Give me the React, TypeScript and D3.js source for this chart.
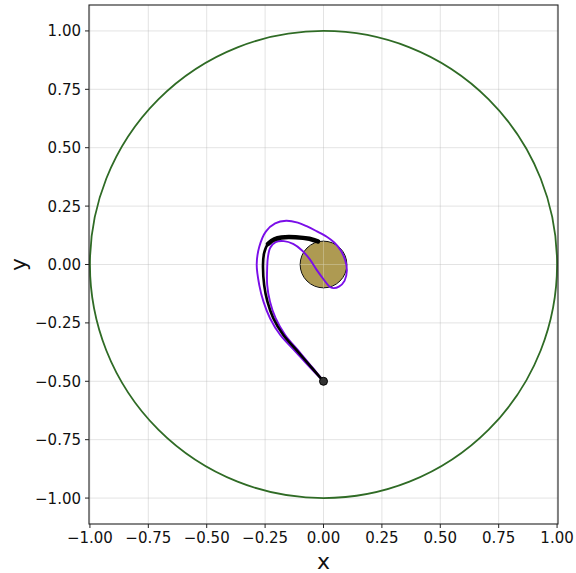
import * as d3 from 'd3';

const W = 576;
const H = 573;

// axis ticks
const xTicks = [-1, -0.75, -0.5, -0.25, 0, 0.25, 0.5, 0.75, 1];
const yTicks = [-1, -0.75, -0.5, -0.25, 0, 0.25, 0.5, 0.75, 1];

// bodies
const orbitRadius = 1.0;
const planetRadius = 0.1;
const startPoint: [number, number] = [0, -0.5];

// purple trajectory (out, around the planet, back)
const purplePath: [number, number][] = [
  [0, -0.5], [-0.054, -0.445], [-0.12, -0.373], [-0.185, -0.302], [-0.229, -0.23],
  [-0.257, -0.159], [-0.275, -0.088], [-0.286, 0.0], [-0.275, 0.076], [-0.247, 0.141],
  [-0.207, 0.176], [-0.16, 0.187], [-0.11, 0.179], [-0.07, 0.163], [-0.03, 0.143],
  [0.014, 0.119], [0.046, 0.094], [0.074, 0.06], [0.093, 0.018], [0.1, -0.026],
  [0.09, -0.07], [0.066, -0.095], [0.042, -0.101], [0.025, -0.094], [0.0, -0.063],
  [-0.03, -0.022], [-0.06, 0.024], [-0.093, 0.061], [-0.13, 0.088], [-0.17, 0.1],
  [-0.205, 0.096], [-0.228, 0.072], [-0.238, 0.032], [-0.241, -0.01], [-0.241, -0.088],
  [-0.229, -0.159], [-0.205, -0.23], [-0.164, -0.302], [-0.104, -0.373], [-0.044, -0.445],
  [0, -0.5],
];

// black trajectory
const blackPath: [number, number][] = [
  [0, -0.5], [-0.048, -0.445], [-0.11, -0.373], [-0.172, -0.302], [-0.215, -0.23],
  [-0.24, -0.159], [-0.254, -0.088], [-0.259, 0.0], [-0.254, 0.05], [-0.238, 0.088],
  [-0.21, 0.108], [-0.18, 0.116], [-0.12, 0.117], [-0.06, 0.11], [-0.024, 0.099],
];

// thicker end of the black trajectory
const blackTop: [number, number][] = [
  [-0.238, 0.088], [-0.21, 0.108], [-0.18, 0.116], [-0.12, 0.117], [-0.06, 0.11], [-0.024, 0.099],
];

const fmt = (v: number) => d3.format('.2f')(v).replace('-', '\u2212');

export default function App() {
  const margin = { left: 89, right: W - 558, top: 5, bottom: H - 524 };
  const x = d3.scaleLinear().domain([-1.004, 1.004]).range([margin.left, W - margin.right]);
  const y = d3.scaleLinear().domain([-1.111, 1.111]).range([H - margin.bottom, margin.top]);

  const line = d3
    .line<[number, number]>()
    .x((d) => x(d[0]))
    .y((d) => y(d[1]))
    .curve(d3.curveCatmullRom.alpha(0.5));

  const pxPerUnit = x(1) - x(0);
  const font = 'DejaVu Sans, sans-serif';

  return (
    <svg width={W} height={H} style={{ position: 'absolute', left: 0, top: 0 }} fontFamily={font}>
      <rect x={0} y={0} width={W} height={H} fill="#fff" />
      {/* grid */}
      <g stroke="#b0b0b0" strokeOpacity={0.45} strokeWidth={0.8}>
        {xTicks.map((t) => (
          <line key={'gx' + t} x1={x(t)} x2={x(t)} y1={margin.top} y2={H - margin.bottom} />
        ))}
        {yTicks.map((t) => (
          <line key={'gy' + t} y1={y(t)} y2={y(t)} x1={margin.left} x2={W - margin.right} />
        ))}
      </g>
      {/* orbit */}
      <circle cx={x(0)} cy={y(0)} r={orbitRadius * pxPerUnit} fill="none" stroke="#2f6b25" strokeWidth={1.8} />
      {/* planet */}
      <circle cx={x(0)} cy={y(0)} r={planetRadius * pxPerUnit} fill="#ae9a52" stroke="#111" strokeWidth={1} />
      {/* grid through planet */}
      <g stroke="#d8d0b0" strokeOpacity={0.6} strokeWidth={0.8}>
        <line x1={x(0)} x2={x(0)} y1={y(planetRadius)} y2={y(-planetRadius)} />
        <line x1={x(-planetRadius)} x2={x(planetRadius)} y1={y(0)} y2={y(0)} />
      </g>
      {/* trajectories */}
      <path d={line(purplePath) || ''} fill="none" stroke="#7a0ee8" strokeWidth={1.9} />
      <path d={line(blackPath) || ''} fill="none" stroke="#000" strokeWidth={2.6} strokeLinecap="round" />
      <path d={line(blackTop) || ''} fill="none" stroke="#000" strokeWidth={4.5} strokeLinecap="round" />
      <circle cx={x(startPoint[0])} cy={y(startPoint[1])} r={4} fill="#333" stroke="#000" strokeWidth={1} />
      {/* spines */}
      <rect
        x={margin.left}
        y={margin.top}
        width={W - margin.left - margin.right}
        height={H - margin.top - margin.bottom}
        fill="none"
        stroke="#222"
        strokeWidth={1.1}
      />
      {/* x ticks */}
      {xTicks.map((t) => (
        <g key={'xt' + t}>
          <line x1={x(t)} x2={x(t)} y1={H - margin.bottom} y2={H - margin.bottom + 4} stroke="#222" />
          <text x={x(t)} y={H - margin.bottom + 19} textAnchor="middle" fontSize={15} fill="#111">
            {fmt(t)}
          </text>
        </g>
      ))}
      {/* y ticks */}
      {yTicks.map((t) => (
        <g key={'yt' + t}>
          <line x1={margin.left - 4} x2={margin.left} y1={y(t)} y2={y(t)} stroke="#222" />
          <text x={margin.left - 8} y={y(t) + 5.5} textAnchor="end" fontSize={15} fill="#111">
            {fmt(t)}
          </text>
        </g>
      ))}
      <text x={x(0)} y={569} textAnchor="middle" fontSize={22} fill="#111">
        x
      </text>
      <text
        transform={`translate(26, ${y(0)}) rotate(-90)`}
        textAnchor="middle"
        fontSize={22}
        fill="#111"
      >
        y
      </text>
    </svg>
  );
}
